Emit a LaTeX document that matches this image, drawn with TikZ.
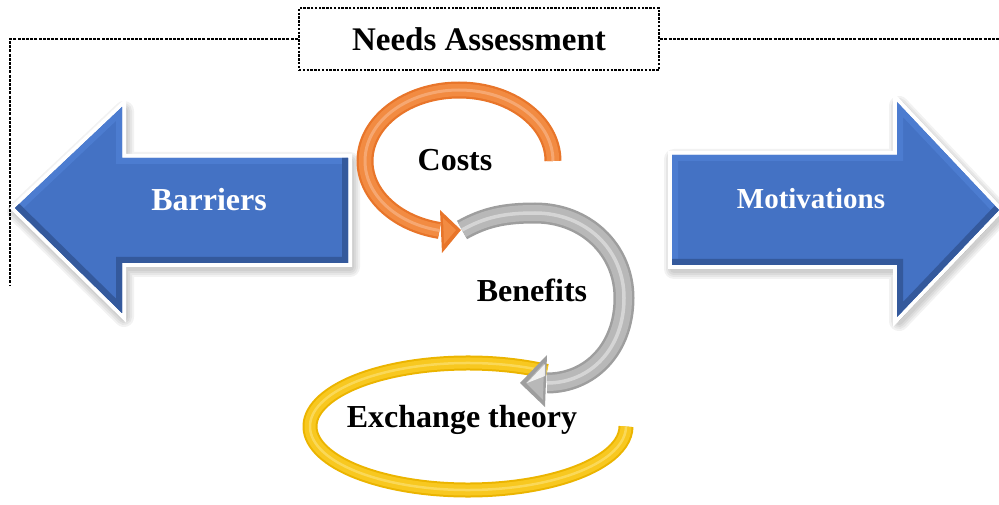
\documentclass[tikz,border=0pt]{standalone}
\usepackage{fontspec}
\setmainfont{Liberation Serif}

\definecolor{bluefill}{HTML}{4472C4}
\definecolor{bluedark}{HTML}{34599C}
\definecolor{bluelight}{HTML}{4C7CD0}
\definecolor{orangedark}{HTML}{E8752A}
\definecolor{orangemid}{HTML}{F28B42}
\definecolor{orangelight}{HTML}{F8B485}
\definecolor{greydark}{HTML}{9E9E9E}
\definecolor{greymid}{HTML}{B8B8B8}
\definecolor{greylight}{HTML}{DDDDDD}
\definecolor{yellowdark}{HTML}{EBB400}
\definecolor{yellowmid}{HTML}{F8C820}
\definecolor{yellowlight}{HTML}{FCE070}

% outlines of the two block arrows and the three ribbon arrows
\def\barrierpath{(15,296) -- (122,397) -- (122,346) -- (348,346) -- (348,241) -- (122,241) -- (122,191) -- cycle}
\def\motivpath{(999,294) -- (897,402) -- (897,349) -- (672,349) -- (672,239) -- (897,239) -- (897,187) -- cycle}
\def\yellowpath{(468,77.5) ++(60:158 and 63.5) arc[start angle=60,end angle=360,x radius=158,y radius=63.5]}
\def\orangepath{(553,343) arc[start angle=0,end angle=258,x radius=94,y radius=71]}
\def\greypath{(462,274) .. controls (485,287) and (505,291) .. (535,291) .. controls (585,291) and (624,255) .. (624,206) .. controls (624,155) and (590,121) .. (547,121)}

\tikzset{
  titlebox/.style={draw, line width=2.4pt, dash pattern=on 2.4pt off 1.4pt, minimum width=360pt,
    minimum height=62pt, inner sep=0pt, font=\fontsize{33}{38}\selectfont\bfseries},
  guide/.style={line width=1.2pt, dash pattern=on 3pt off 1.2pt},
  whitelabel/.style={text=white, inner sep=0pt, font=\fontsize{32}{36}\selectfont\bfseries},
  blacklabel/.style={text=black, inner sep=0pt, font=\fontsize{32}{36}\selectfont\bfseries},
  blockrim/.style={draw=white, line width=8pt, line join=miter},
}

\begin{document}
\begin{tikzpicture}[x=1pt,y=1pt]
\useasboundingbox (0,0) rectangle (999,504);

% ---- title box and its dashed guides
\node[titlebox] (needs) at (479,465) {Needs Assessment};
\coordinate (lc) at (10,463);
\coordinate (lend) at (10,219);
\coordinate (rc) at (999,466);
\draw[guide] (needs.west) -- (needs.west -| lc) -- (lend);
\draw[guide] (needs.east) -- (needs.east -| rc);

% ---- block arrows with soft shadow, white rim and bevel
\foreach \shape/\hi/\lo in {\barrierpath/{(348,346) -- (122,346) -- (122,397) -- (15,296)}/{(15,296) -- (122,191) -- (122,241) -- (348,241) -- (348,346)},
                            \motivpath/{(672,239) -- (672,349) -- (897,349) -- (897,402) -- (999,294)}/{(999,294) -- (897,187) -- (897,239) -- (672,239)}}{
  \begin{scope}[xshift=2pt, yshift=-4pt]
    \foreach \w in {20,16,12,8}{
      \filldraw[black, opacity=0.05, line width=\w pt, line join=round] \shape;
    }
  \end{scope}
  \draw[blockrim] \shape;
  \fill[bluefill] \shape;
  \begin{scope}
    \clip \shape;
    \draw[bluelight, line width=12pt, line join=miter] \hi;
    \draw[bluedark, line width=12pt, line join=miter] \lo;
    \draw[bluedark, line width=5pt, line join=miter, opacity=0.5] \lo;
  \end{scope}
}

\node[whitelabel] (barriers) at (209,304) {Barriers};
\node[whitelabel, font=\fontsize{29}{33}\selectfont\bfseries] (motivations) at (811,305) {Motivations};

% ---- yellow ring
\draw[yellowdark, line width=15pt] \yellowpath;
\draw[yellowmid, line width=11pt] \yellowpath;
\draw[yellowlight, line width=2.5pt, opacity=0.7] \yellowpath;

% ---- orange ribbon arrow
\draw[orangedark, line width=17pt] \orangepath;
\draw[orangemid, line width=12.5pt] \orangepath;
\draw[orangelight, line width=3pt, opacity=0.7] \orangepath;
\fill[orangedark] (440,294) -- (461,274) -- (442,251) -- cycle;
\fill[orangemid] (443,286) -- (456,274) -- (444,260) -- cycle;

% ---- grey ribbon arrow
\draw[greydark, line width=21pt] \greypath;
\draw[greymid, line width=16pt] \greypath;
\draw[greylight, line width=3.5pt, opacity=0.8] \greypath;
\fill[greydark] (547,149) -- (520,121) -- (545,97) -- cycle;
\fill[greymid] (544,141) -- (526,121) -- (543,104) -- cycle;
\fill[white, opacity=0.8] (545,140) -- (527,121) -- (545,128) -- cycle;

% ---- labels
\node[blacklabel] (costs) at (455,344) {Costs};
\node[blacklabel] (benefits) at (532,214) {Benefits};
\node[blacklabel] (exchange) at (462,84) {Exchange theory};
\end{tikzpicture}
\end{document}
